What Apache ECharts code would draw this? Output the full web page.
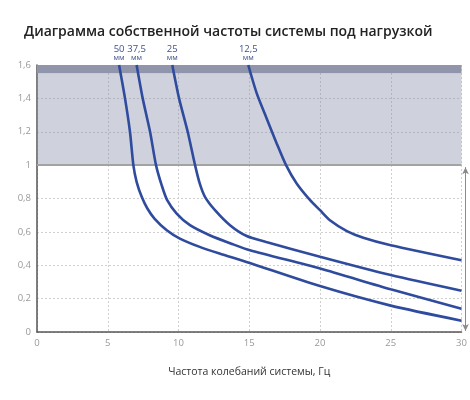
<!DOCTYPE html>
<html>
<head>
<meta charset="utf-8">
<script src="https://cdn.jsdelivr.net/npm/echarts@6/dist/echarts.min.js"></script>
<style>html,body{margin:0;padding:0;background:#fff}#c{width:470px;height:400px}</style>
</head>
<body>
<div id="c"></div>
<script>
var titleText = 'Диаграмма собственной частоты системы под нагрузкой';
var xAxisName = 'Частота колебаний системы, Гц';
var seriesNames = ['50', '37,5', '25', '12,5'];
var unitLabel = 'мм';
var curve50 = [[5.8,1.6],[6.22,1.4],[6.57,1.2],[6.81,1.0],[7.04,0.9],[7.4,0.81],[7.8,0.74],[8.3,0.68],[9.17,0.61],[10.1,0.56],[11.5,0.51],[12.9,0.47],[14.8,0.42],[20,0.275],[25,0.158],[30,0.068]];
var curve375 = [[7.04,1.6],[7.47,1.4],[7.99,1.2],[8.41,1.0],[8.81,0.88],[9.2,0.79],[9.87,0.71],[10.81,0.64],[12.2,0.58],[13.87,0.525],[15.05,0.49],[20,0.38],[25,0.256],[30,0.14]];
var curve25 = [[9.56,1.6],[10.04,1.4],[10.65,1.2],[11.17,1.0],[11.5,0.89],[11.87,0.81],[12.58,0.73],[13.64,0.64],[14.82,0.575],[16.2,0.54],[20,0.451],[25,0.341],[30,0.247]];
var curve125 = [[14.93,1.6],[15.53,1.43],[16.23,1.28],[16.94,1.13],[17.6,1.0],[18.35,0.89],[19.3,0.79],[20,0.73],[20.7,0.67],[21.9,0.605],[23.06,0.565],[25,0.52],[30,0.43]];
var curves = [curve50, curve375, curve25, curve125];
var bandLight = [1, 1.55];
var bandDark = [1.55, 1.6];
var limitLine = 1;
var arrowRange = [0, 1];

var chart = echarts.init(document.getElementById('c'));
var lineColor = '#2f4b9e';
var labelRich = {
  a: {fontSize: 9.5, color: '#40528f', fontFamily: 'Open Sans', lineHeight: 10, align: 'center'},
  b: {fontSize: 7.5, color: '#40528f', fontFamily: 'Open Sans', lineHeight: 8, align: 'center'}
};
var series = curves.map(function (c, i) {
  return {
    type: 'line', name: seriesNames[i], data: c, smooth: 0.25,
    showSymbol: false, symbol: 'none', clip: false,
    lineStyle: {color: lineColor, width: 2.6}, z: 5, silent: true,
    markPoint: {
      silent: true, symbol: 'circle', symbolSize: 0,
      data: [{
        coord: c[0],
        label: {
          show: true, position: 'top', distance: 3,
          formatter: '{a|' + seriesNames[i] + '}\n{b|' + unitLabel + '}',
          rich: labelRich
        }
      }]
    }
  };
});
series.push({
  type: 'line', data: [], silent: true, clip: false,
  markArea: {
    silent: true,
    data: [
      [{yAxis: bandLight[0], itemStyle: {color: 'rgba(140,148,172,0.42)'}}, {yAxis: bandLight[1]}],
      [{yAxis: bandDark[0], itemStyle: {color: '#9095ab'}}, {yAxis: bandDark[1]}]
    ]
  },
  markLine: {
    silent: true, symbol: 'none', label: {show: false},
    lineStyle: {color: '#a3a3a3', width: 2, type: 'solid'},
    data: [{yAxis: limitLine}]
  },
  z: 2
});

var option = {
  animation: false,
  title: {
    text: titleText, left: 19, top: 20,
    textStyle: {fontSize: 14, fontWeight: 600, color: '#222', fontFamily: 'Open Sans'}
  },
  grid: {left: 37, right: 8.5, top: 65, bottom: 68},
  xAxis: {
    type: 'value', min: 0, max: 30, interval: 5,
    name: xAxisName, nameLocation: 'middle', nameGap: 35,
    nameTextStyle: {fontSize: 10.5, color: '#333', fontFamily: 'Open Sans'},
    axisLine: {lineStyle: {color: '#555', width: 1.5}},
    axisTick: {show: false},
    axisLabel: {color: '#999', fontSize: 9.5, fontFamily: 'Open Sans', margin: 6},
    splitLine: {show: true, lineStyle: {color: '#cfcfcf', type: [2, 2]}}
  },
  yAxis: {
    type: 'value', min: 0, max: 1.6, interval: 0.2,
    axisLine: {show: true, lineStyle: {color: '#555', width: 1.5}},
    axisTick: {show: false},
    axisLabel: {
      color: '#999', fontSize: 9.5, fontFamily: 'Open Sans', margin: 6,
      formatter: function (v) { return String(Math.round(v * 10) / 10).replace('.', ','); }
    },
    splitLine: {show: true, lineStyle: {color: '#cfcfcf', type: [2, 2]}}
  },
  series: series
};
chart.setOption(option);

// bracket arrow at right side of the plot, spanning the range below the limit
var pTop = chart.convertToPixel({gridIndex: 0}, [30, arrowRange[1]]);
var pBot = chart.convertToPixel({gridIndex: 0}, [30, arrowRange[0]]);
var ax = pTop[0] + 4;
chart.setOption({
  series: series.concat([{
    type: 'line', data: [], silent: true,
    markLine: {
      silent: true, symbol: ['arrow', 'arrow'], symbolSize: [5, 7], label: {show: false},
      lineStyle: {color: '#8a8a8a', width: 1, type: 'solid'},
      data: [[{x: ax, y: pTop[1] + 2}, {x: ax, y: pBot[1] - 1}]]
    }
  }])
});
</script>
</body>
</html>
